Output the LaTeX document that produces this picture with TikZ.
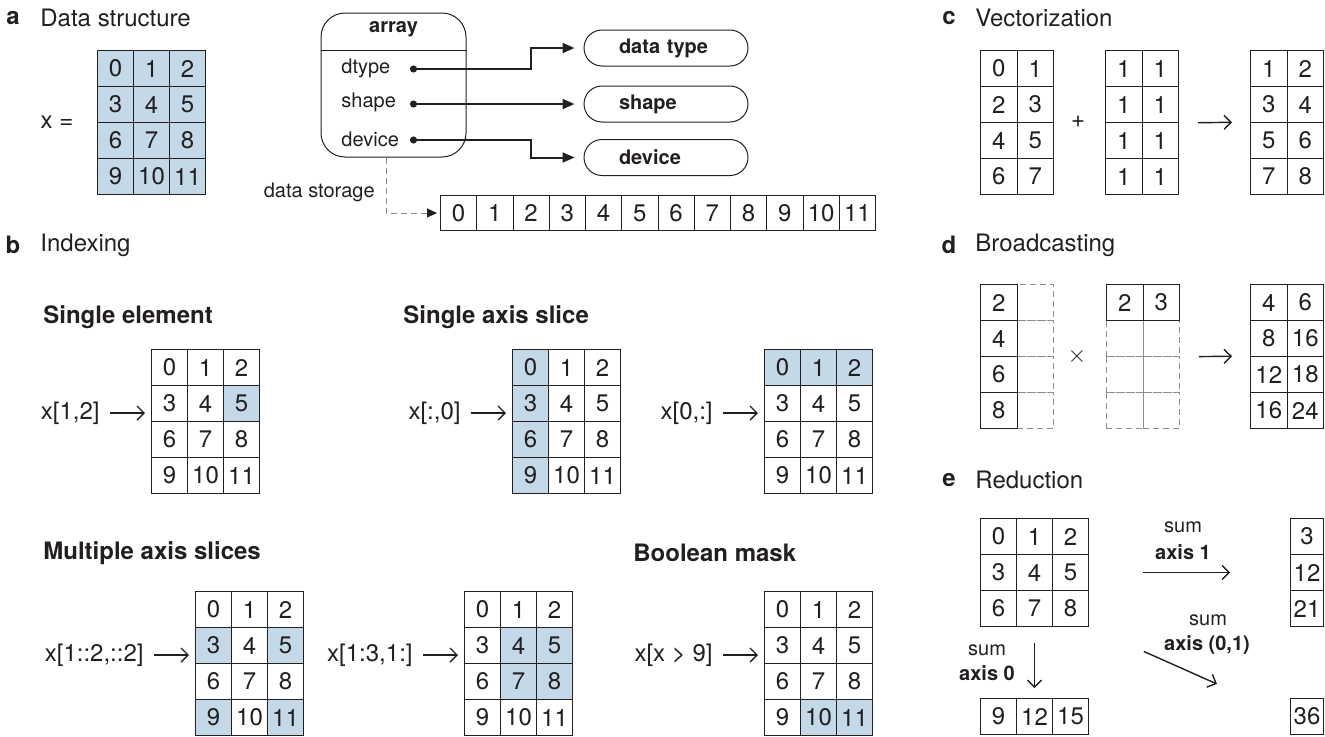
\documentclass[tikz,border=0pt]{standalone}
\usepackage{fontspec}
\setmainfont{TeX Gyre Heros}
\usetikzlibrary{arrows.meta, positioning, backgrounds, calc}
\definecolor{inkc}{RGB}{35,31,32}
\definecolor{hlc}{RGB}{195,217,231}
\definecolor{ghostc}{RGB}{140,140,140}
\newcommand{\cellfont}{\fontsize{12}{12}\selectfont}
\newcommand{\headfont}{\fontsize{12}{14}\selectfont}
\newcommand{\smallfont}{\fontsize{10}{12}\selectfont}
\def\cw{36}\def\ch{36}
\tikzset{
  cell/.style={draw=inkc, line width=0.5pt, anchor=north west, inner sep=0pt,
    minimum width=\cw*0.5pt, minimum height=\ch*0.5pt, font=\cellfont, text=inkc},
  ghost/.style={draw=ghostc, densely dashed, line width=0.4pt},
  plabel/.style={font=\headfont\bfseries, text=inkc, inner sep=0pt},
  ptitle/.style={font=\headfont, text=inkc, anchor=west, inner sep=0pt},
  sub/.style={font=\headfont\bfseries, text=inkc, anchor=west, inner sep=0pt},
  lbl/.style={font=\smallfont, text=inkc, anchor=west, inner sep=0pt},
  idx/.style={font=\cellfont, text=inkc, anchor=east, inner sep=0pt},
  arraybox/.style={draw=inkc, line width=0.5pt, rounded corners=12pt,
    minimum width=72.5pt, minimum height=72pt, inner sep=0pt},
  attr/.style={draw=inkc, line width=0.5pt, rounded corners=9pt,
    minimum width=82pt, minimum height=18pt, text width=47pt, align=left,
    inner sep=0pt, font=\smallfont\bfseries, text=inkc},
  ptr/.style={{Circle[length=3.5pt]}-{Triangle[length=6pt,width=5pt]},
    line width=1pt, draw=inkc, shorten >=4.5pt},
  storeptr/.style={-{Triangle[length=5pt,width=4.5pt,color=inkc]}, line width=0.5pt,
    draw=ghostc, dash pattern=on 3pt off 2pt, shorten >=1.5pt},
  idxarr/.style={-{Straight Barb[length=3.5pt,width=7pt]}, line width=0.7pt,
    draw=inkc, shorten <=5pt, shorten >=3pt},
  opa/.style={-{Straight Barb[length=3.5pt,width=7pt]}, line width=0.7pt, draw=inkc},
  sumlbl/.style={font=\smallfont, text=inkc, inner sep=0pt},
  axlbl/.style={font=\smallfont\bfseries, text=inkc, inner sep=0pt},
}
% cells of a table, numbered row by row: name-0, name-1, ...
\newcommand{\cellgrid}[6][]{%
  \foreach \cellv [count=\k from 0] in {#6} {
    \pgfmathtruncatemacro{\rr}{div(\k,#5)}
    \pgfmathtruncatemacro{\cc}{mod(\k,#5)}
    \node[cell, #1] (#2-\k) at ({#3+\cc*\cw}, {#4+\rr*\ch}) {\cellv};
  }}
\newcommand{\shadecells}[2]{%
  \begin{scope}[on background layer]
    \foreach \k in {#2} {\fill[hlc] (#1-\k.north west) rectangle (#1-\k.south east);}
  \end{scope}}

\begin{document}
\begin{tikzpicture}[x=0.5pt, y=-0.5pt]
  \useasboundingbox (0,0) rectangle (1325,736);

  % a  data structure
  \node[plabel] (pa) at (13,18) {a};
  \node[ptitle] (ta) at (40,18) {Data structure};
  \node[font=\cellfont, text=inkc] (xeq) at (57,122) {x =};
  \cellgrid[fill=hlc]{xa}{97}{50}{3}{0,...,11}

  \node[arraybox] (arr) at (393.5,85) {};
  \draw[inkc, line width=0.5pt] ($(arr.north west)+(0,38)$) -- ($(arr.north east)+(0,38)$);
  \node[axlbl] (arrt) at ($(arr.north)+(0,17)$) {array};
  \node[lbl] (fdt) at (341,68) {dtype};
  \node[lbl] (fsh) at (341,102) {shape};
  \node[lbl] (fdv) at (341,139) {device};

  \node[attr] (bdt) at (666,48) {data type};
  \node[attr] (bsh) at (666,104) {shape};
  \node[attr] (bdv) at (666,157.5) {device};

  \coordinate (elb) at (531,0);
  \coordinate (pdt) at (410,69);
  \coordinate (psh) at (410,104);
  \coordinate (pdv) at (410,140);
  \draw[ptr] (pdt) -- (pdt -| elb) |- (bdt.west);
  \draw[ptr] (psh) -- (psh -| bsh.west);
  \draw[ptr] (pdv) -- (pdv -| elb) |- (bdv.west);

  \node[lbl, anchor=east] (dstore) at (375,192) {data storage};
  \def\cw{36.25}\def\ch{35}
  \cellgrid{s}{440}{195}{12}{0,...,11}
  \draw[storeptr] ($(arr.south)+(-7.5,0)$) |- (s-0.west);

  % b  indexing
  \def\cw{36}\def\ch{36}
  \node[plabel] (pb) at (13,245) {b};
  \node[ptitle] (tb) at (40,245) {Indexing};
  \node[sub] (t1) at (43,317) {Single element};
  \node[sub] (t2) at (403,317) {Single axis slice};
  \node[sub] (t3) at (43,553) {Multiple axis slices};
  \node[sub] (t4) at (633,553) {Boolean mask};

  \cellgrid{g1}{151}{349}{3}{0,...,11}
  \cellgrid{g2}{512}{349}{3}{0,...,11}
  \cellgrid{g3}{764}{349}{3}{0,...,11}
  \cellgrid{g4}{195}{591}{3}{0,...,11}
  \cellgrid{g5}{464}{591}{3}{0,...,11}
  \cellgrid{g6}{764}{591}{3}{0,...,11}
  \shadecells{g1}{5}
  \shadecells{g2}{0,3,6,9}
  \shadecells{g3}{0,1,2}
  \shadecells{g4}{3,5,9,11}
  \shadecells{g5}{4,5,7,8}
  \shadecells{g6}{10,11}

  \node[idx] (l1) at (100,413) {x[1,2]};
  \node[idx] (l2) at (461,413) {x[:,0]};
  \node[idx] (l3) at (713,413) {x[0,:]};
  \node[idx] (l4) at (144,655) {x[1::2,::2]};
  \node[idx] (l5) at (413,655) {x[1:3,1:]};
  \node[idx] (l6) at (713,655) {x[x > 9]};
  \foreach \l/\g in {l1/g1, l2/g2, l3/g3, l4/g4, l5/g5, l6/g6}
    \draw[idxarr] (\l) -- (\l -| \g-3.west);

  % c  vectorization
  \def\cw{36.5}\def\ch{36}
  \node[plabel] (pc) at (949,18) {c};
  \node[ptitle] (tc) at (975,18) {Vectorization};
  \cellgrid{ca}{980}{50}{2}{0,...,7}
  \cellgrid{cb}{1105}{50}{2}{1,1,1,1,1,1,1,1}
  \cellgrid{cc}{1250}{50}{2}{1,...,8}
  \node[font=\cellfont, text=inkc] (plus) at (1078,122) {+};
  \draw[opa, shorten <=9.5pt, shorten >=9pt] (cb-3.south east) -- (cc-4.north west);

  % d  broadcasting
  \node[plabel] (pd) at (949,245) {d};
  \node[ptitle] (td) at (975,245) {Broadcasting};
  \cellgrid[ghost]{dag}{1016.5}{284}{1}{{},{},{},{}}
  \cellgrid{da}{980}{284}{1}{2,4,6,8}
  \cellgrid[ghost]{dbg}{1106}{320}{2}{{},{},{},{},{},{}}
  \cellgrid{db}{1106}{284}{2}{2,3}
  \cellgrid{dc}{1250}{284}{2}{4,6,8,16,12,18,16,24}
  \node[font=\cellfont, text=inkc] (times) at (1077,356) {$\times$};
  \draw[opa, shorten <=9.5pt, shorten >=9pt] (dbg-1.south east) -- (dc-4.north west);

  % e  reduction
  \def\cw{36}
  \node[plabel] (pe) at (949,480) {e};
  \node[ptitle] (te) at (975,480) {Reduction};
  \cellgrid{ea}{980}{518}{3}{0,...,8}
  \cellgrid{e0}{980}{698}{3}{9,12,15}
  \def\cw{33}
  \cellgrid{e1}{1290}{518}{1}{3,12,21}
  \cellgrid{e01}{1290}{698}{1}{36}

  \draw[opa, shorten <=27pt, shorten >=30pt] (ea-5.east) -- (e1-1.west);
  \node[sumlbl] (s1) at (1183,527) {sum};
  \node[axlbl] (x1) at (1183,552) {axis 1};

  \draw[opa, shorten <=8pt, shorten >=5pt] (ea-7.south) -- (e0-1.north);
  \node[sumlbl] (s0) at (987,650) {sum};
  \node[axlbl] (x0) at (987,673) {axis 0};

  \draw[opa, shorten <=30pt, shorten >=40pt] (ea-8.south east) -- (e01-0.west);
  \node[sumlbl] (s01) at (1208,620) {sum};
  \node[axlbl] (x01) at (1207,645) {axis (0,1)};

\end{tikzpicture}
\end{document}
